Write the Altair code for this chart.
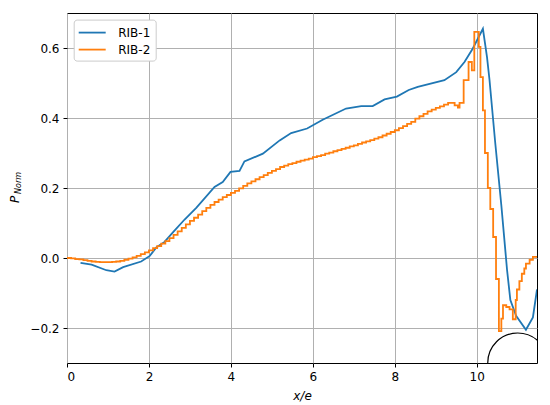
import altair as alt
import pandas as pd

# RIB-1 (blue) readings
rib1_x = [0.33, 0.60, 0.96, 1.16, 1.37, 1.81, 2.02, 2.18, 2.38, 2.59, 2.87, 3.16, 3.60, 3.80,
          3.99, 4.21, 4.33, 4.78, 5.19, 5.47, 5.86, 6.24, 6.81, 7.18, 7.46, 7.75, 8.05, 8.34,
          8.56, 9.21, 9.50, 9.70, 9.90, 10.15, 10.25, 10.31, 10.45, 10.60, 10.74, 10.82, 10.96,
          11.20, 11.37, 11.47]
rib1_y = [-0.014, -0.019, -0.035, -0.039, -0.026, -0.010, 0.006, 0.030, 0.046, 0.074, 0.110,
          0.144, 0.203, 0.217, 0.246, 0.249, 0.276, 0.298, 0.336, 0.357, 0.370, 0.395, 0.427,
          0.434, 0.434, 0.453, 0.461, 0.480, 0.489, 0.508, 0.531, 0.560, 0.598, 0.655, 0.574,
          0.510, 0.330, 0.150, -0.035, -0.120, -0.165, -0.205, -0.170, -0.090]

# RIB-2 (orange) readings, staircase
rib2_x = [0.0, 0.1, 0.2, 0.3, 0.4, 0.5, 0.6, 0.7, 0.8, 0.9, 1.0, 1.1, 1.2, 1.3, 1.4, 1.5, 1.6,
          1.7, 1.8, 1.9, 2.0, 2.1, 2.2, 2.3, 2.4, 2.5, 2.6, 2.7, 2.8, 2.9, 3.0, 3.1, 3.2, 3.3,
          3.4, 3.5, 3.6, 3.7, 3.8, 3.9, 4.0, 4.1, 4.2, 4.3, 4.4, 4.5, 4.6, 4.7, 4.8, 4.9, 5.0,
          5.1, 5.2, 5.3, 5.4, 5.5, 5.6, 5.7, 5.8, 5.9, 6.0, 6.1, 6.2, 6.3, 6.4, 6.5, 6.6, 6.7,
          6.8, 6.9, 7.0, 7.1, 7.2, 7.3, 7.4, 7.5, 7.6, 7.7, 7.8, 7.9, 8.0, 8.1, 8.2, 8.3, 8.4,
          8.5, 8.6, 8.7, 8.8, 8.9, 9.0, 9.1, 9.2, 9.3, 9.46, 9.54, 9.58, 9.68, 9.80, 9.88, 9.94,
          10.05, 10.09, 10.15, 10.20, 10.27, 10.33, 10.40, 10.47, 10.54, 10.60, 10.64, 10.72,
          10.80, 10.88, 10.95, 10.98, 11.04, 11.10, 11.16, 11.20, 11.29, 11.37, 11.47]
rib2_y = [0.000, -0.001, -0.003, -0.004, -0.006, -0.008, -0.010, -0.011, -0.012, -0.012,
          -0.012, -0.011, -0.010, -0.008, -0.005, -0.002, 0.002, 0.006, 0.011, 0.016, 0.022,
          0.028, 0.034, 0.041, 0.048, 0.057, 0.066, 0.076, 0.086, 0.096, 0.106, 0.115, 0.124,
          0.134, 0.143, 0.152, 0.160, 0.167, 0.174, 0.180, 0.186, 0.192, 0.199, 0.206, 0.213,
          0.219, 0.225, 0.231, 0.237, 0.243, 0.249, 0.254, 0.260, 0.264, 0.268, 0.271, 0.275,
          0.278, 0.281, 0.284, 0.288, 0.291, 0.294, 0.298, 0.301, 0.305, 0.308, 0.312, 0.315,
          0.319, 0.322, 0.326, 0.330, 0.333, 0.337, 0.341, 0.345, 0.350, 0.355, 0.360, 0.365,
          0.371, 0.377, 0.383, 0.389, 0.398, 0.405, 0.412, 0.419, 0.424, 0.429, 0.433, 0.438,
          0.443, 0.436, 0.430, 0.443, 0.508, 0.560, 0.536, 0.646, 0.603, 0.517, 0.422, 0.300,
          0.200, 0.140, 0.060, -0.060, -0.209, -0.173, -0.135, -0.140, -0.147, -0.175, -0.120,
          -0.090, -0.066, -0.045, -0.030, -0.016, -0.005, 0.003, 0.003]

# rib cross-section marker
circle_x = [11.0]
circle_y = [-0.3]

series_names = ["RIB-1", "RIB-2"]
series_colors = ["#1f77b4", "#ff7f0e"]

df1 = pd.DataFrame({"x": rib1_x, "y": rib1_y, "series": series_names[0]})
df2 = pd.DataFrame({"x": rib2_x, "y": rib2_y, "series": series_names[1]})
dfc = pd.DataFrame({"x": circle_x, "y": circle_y})

FONT = "DejaVu Sans"
xscale = alt.Scale(domain=[0, 11.47], nice=False, zero=False)
yscale = alt.Scale(domain=[-0.3, 0.7], nice=False, zero=False)

xaxis = alt.Axis(values=[0, 2, 4, 6, 8, 10], format="d", title="x/e", titleFontStyle="italic",
                 titleFontWeight="normal", titleFontSize=12, titleFont=FONT, titlePadding=8,
                 labelFont=FONT, labelFontSize=12, labelColor="black", labelPadding=4,
                 tickColor="black", tickSize=4, tickWidth=1, domain=False,
                 grid=True, gridColor="#b0b0b0", gridWidth=1, titleColor="black")
yaxis = alt.Axis(values=[-0.2, 0.0, 0.2, 0.4, 0.6], format=".1f", title=None,
                 labelFont=FONT, labelFontSize=12, labelColor="black", labelPadding=4,
                 tickColor="black", tickSize=4, tickWidth=1, domain=False,
                 grid=True, gridColor="#b0b0b0", gridWidth=1)

color = alt.Color("series:N",
                  scale=alt.Scale(domain=series_names, range=series_colors),
                  legend=alt.Legend(title=None, orient="none", legendX=6.7, legendY=6.6,
                                    symbolType="M-2,0H2", symbolSize=182, symbolStrokeWidth=1.8,
                                    symbolOffset=5.5,
                                    labelFont=FONT, labelFontSize=12, labelColor="black",
                                    padding=5, rowPadding=3, labelOffset=18,
                                    strokeColor="#cccccc", fillColor="white", cornerRadius=3))

line1 = alt.Chart(df1).mark_line(strokeWidth=1.8, clip=True).encode(
    x=alt.X("x:Q", scale=xscale, axis=xaxis),
    y=alt.Y("y:Q", scale=yscale, axis=yaxis),
    color=color,
)
line2 = alt.Chart(df2).mark_line(strokeWidth=1.8, interpolate="step-after", clip=True).encode(
    x=alt.X("x:Q", scale=xscale, axis=xaxis),
    y=alt.Y("y:Q", scale=yscale, axis=yaxis),
    color=color,
)
circ = alt.Chart(dfc).mark_point(shape="circle", size=3600, filled=False, color="black",
                                 strokeWidth=1.2, opacity=1, clip=True).encode(
    x=alt.X("x:Q", scale=xscale),
    y=alt.Y("y:Q", scale=yscale),
)

ytitle_p = alt.Chart(pd.DataFrame({"t": ["P"]})).mark_text(
    angle=270, align="left", baseline="alphabetic", font=FONT, fontSize=12,
    fontStyle="italic", color="black").encode(
    text="t:N", x=alt.value(-48), y=alt.value(190))
ytitle_sub = alt.Chart(pd.DataFrame({"t": ["Norm"]})).mark_text(
    angle=270, align="left", baseline="alphabetic", font=FONT, fontSize=8,
    fontStyle="italic", color="black").encode(
    text="t:N", x=alt.value(-46), y=alt.value(181))

chart = alt.layer(line1, line2, circ, ytitle_p, ytitle_sub).resolve_scale(
    color="shared"
).properties(
    width=470, height=350,
    autosize=alt.AutoSizeParams(type="none"),
    padding={"left": 59, "top": 5, "right": 5, "bottom": 42},
).configure_view(stroke="black", strokeWidth=1)

chart.save("out.html", embed_options={"renderer": "svg", "actions": False})
